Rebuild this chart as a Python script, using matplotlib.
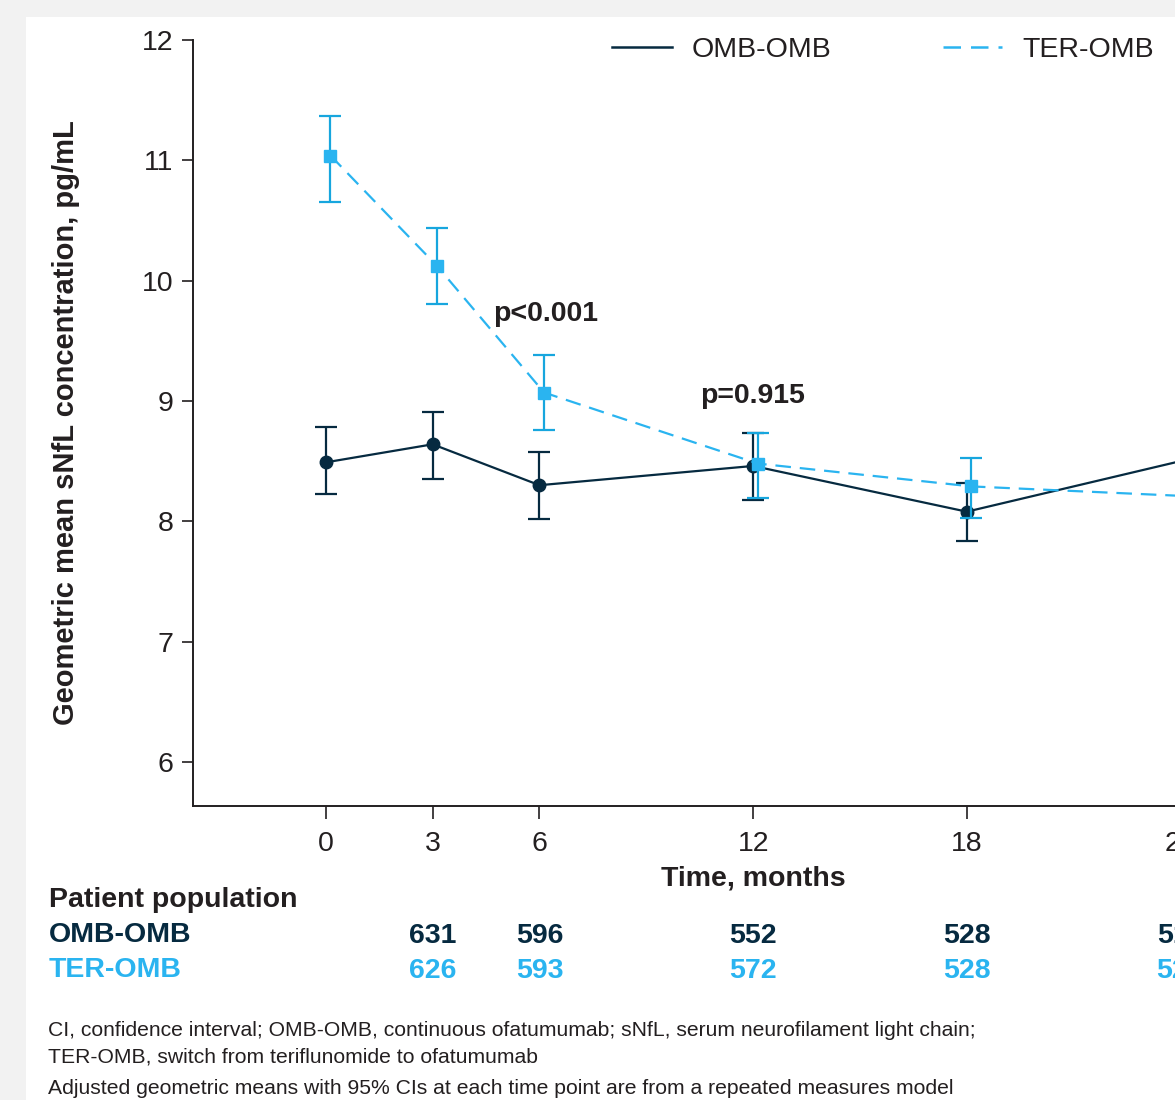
import numpy as np
import matplotlib
matplotlib.use("Agg")
import matplotlib.pyplot as plt
from matplotlib.lines import Line2D
from matplotlib.patches import Rectangle
from matplotlib.transforms import blended_transform_factory

plt.rcParams['font.family'] = ['Liberation Sans', 'DejaVu Sans']

# data
months = [0, 3, 6, 12, 18, 24]
omb_mean = [8.49, 8.64, 8.30, 8.46, 8.08, 8.50]
ter_mean = [11.04, 10.12, 9.07, 8.48, 8.29, 8.21]
# 95% CI, only visible up to month 18 (the 24 month bars are cropped away)
ci_months = [0, 3, 6, 12, 18]
omb_lo = [8.23, 8.35, 8.02, 8.18, 7.84]
omb_hi = [8.78, 8.91, 8.58, 8.73, 8.32]
ter_lo = [10.65, 9.81, 8.76, 8.19, 8.03]
ter_hi = [11.37, 10.44, 9.38, 8.73, 8.53]

n_months = [3, 6, 12, 18, 24]
omb_n = [631, 596, 552, 528, 517]
ter_n = [626, 593, 572, 528, 523]

p_labels = ["p<0.001", "p=0.915"]

navy = '#062a40'
blue = '#2ab4f0'
blue_err = '#17a6de'
ink = '#231f20'
FS = 20.5

fig = plt.figure(figsize=(11.75, 11), dpi=100)
fig.patch.set_facecolor('#f2f2f2')
fig.patches.append(Rectangle((26 / 1175, 0), 1.0, 1 - 17 / 1100,
                             transform=fig.transFigure, facecolor='white',
                             edgecolor='none', zorder=-10))

ax = fig.add_axes([193 / 1175, 1 - 806 / 1100, 0.9313, 766 / 1100])
ax.set_facecolor('none')

shift = 0.13  # TER points drawn slightly right of the OMB ones
ter_x = np.array(months) + shift
n_ci = len(ci_months)
omb_err = [np.array(omb_mean[:n_ci]) - np.array(omb_lo),
           np.array(omb_hi) - np.array(omb_mean[:n_ci])]
ter_err = [np.array(ter_mean[:n_ci]) - np.array(ter_lo),
           np.array(ter_hi) - np.array(ter_mean[:n_ci])]

ax.errorbar(ci_months, omb_mean[:n_ci], yerr=omb_err, fmt='none', ecolor=navy,
            elinewidth=1.6, capsize=8, capthick=1.6, zorder=3)
ax.plot(months, omb_mean, color=navy, lw=1.6, marker='o', ms=9,
        markevery=slice(0, n_ci), zorder=4)
ax.errorbar(np.array(ci_months) + shift, ter_mean[:n_ci], yerr=ter_err,
            fmt='none', ecolor=blue_err, elinewidth=1.6, capsize=8,
            capthick=1.6, zorder=5)
ax.plot(ter_x, ter_mean, color=blue, lw=1.6, ls=(0, (7, 4)), marker='s',
        ms=9, markevery=slice(0, n_ci), zorder=6)

ax.text(4.7, 9.72, p_labels[0], fontsize=FS, fontweight='bold', color=ink,
        va='center', ha='left')
ax.text(10.5, 9.04, p_labels[1], fontsize=FS, fontweight='bold', color=ink,
        va='center', ha='left')

ax.set_xlim(-3.73, 27)
ax.set_ylim(5.634, 12)
ax.set_xticks([0, 3, 6, 12, 18, 24])
ax.set_yticks([6, 7, 8, 9, 10, 11, 12])
ax.spines['top'].set_visible(False)
ax.spines['right'].set_visible(False)
ax.spines['left'].set_bounds(5.634, 12)
for s in ['left', 'bottom']:
    ax.spines[s].set_color(ink)
    ax.spines[s].set_linewidth(1.4)
ax.tick_params(axis='y', length=8, width=1.2, color=ink, labelsize=FS,
               labelcolor=ink, pad=6)
ax.tick_params(axis='x', length=9, width=1.2, color=ink, labelsize=FS,
               labelcolor=ink, pad=9)

ax.set_ylabel("Geometric mean sNfL concentration, pg/mL", fontsize=21,
              fontweight='bold', color=ink)
ax.yaxis.set_label_coords((80 - 193) / 1094, 0.5)

tr = blended_transform_factory(ax.transData, fig.transFigure)
ax.text(12, 1 - 878 / 1100, "Time, months", transform=tr, fontsize=FS,
        fontweight='bold', color=ink, ha='center', va='center')

fig.text(49 / 1175, 1 - 900 / 1100, "Patient population", fontsize=FS,
         fontweight='bold', color=ink, ha='left', va='center')
fig.text(49 / 1175, 1 - 935 / 1100, "OMB-OMB", fontsize=FS,
         fontweight='bold', color=navy, ha='left', va='center')
fig.text(49 / 1175, 1 - 970 / 1100, "TER-OMB", fontsize=FS,
         fontweight='bold', color=blue, ha='left', va='center')
for m, a, b in zip(n_months, omb_n, ter_n):
    ax.text(m, 1 - 936 / 1100, str(a), transform=tr, fontsize=FS,
            fontweight='bold', color=navy, ha='center', va='center')
    ax.text(m, 1 - 971 / 1100, str(b), transform=tr, fontsize=FS,
            fontweight='bold', color=blue, ha='center', va='center')

notes = ["CI, confidence interval; OMB-OMB, continuous ofatumumab; sNfL, serum neurofilament light chain;",
         "TER-OMB, switch from teriflunomide to ofatumumab",
         "Adjusted geometric means with 95% CIs at each time point are from a repeated measures model"]
for txt, yy in zip(notes, [1031, 1057, 1088]):
    fig.text(48 / 1175, 1 - yy / 1100, txt, fontsize=15.2, color=ink,
             ha='left', va='center')

handles = [Line2D([], [], color=navy, lw=1.8),
           Line2D([], [], color=blue, lw=1.8, ls=(0, (7, 4)))]
fig.legend(handles, ["OMB-OMB", "TER-OMB"], loc='center left',
           bbox_to_anchor=(612 / 1175, 1 - 50 / 1100), ncol=2, frameon=False,
           fontsize=FS, handlelength=2.1, handletextpad=0.7,
           columnspacing=3.9, borderpad=0, borderaxespad=0,
           labelcolor=ink)

fig.savefig("out.png", dpi=100, facecolor=fig.get_facecolor())
